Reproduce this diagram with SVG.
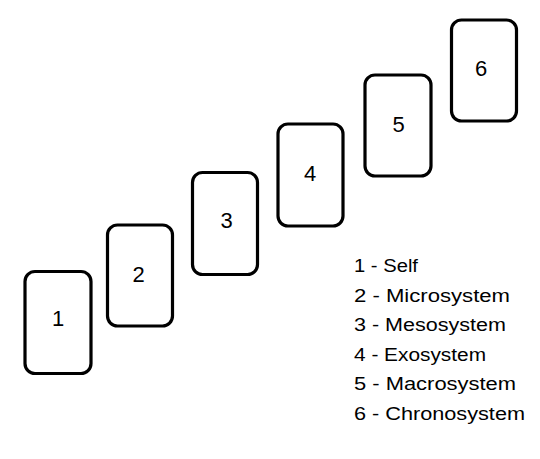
<svg xmlns="http://www.w3.org/2000/svg" width="540" height="459" viewBox="0 0 540 459">
<style>
.box{fill:#fff;stroke:#000;stroke-width:3.2}
.num{font-family:"Liberation Sans",Arial,sans-serif;font-size:22px;fill:#000;text-anchor:middle}
.leg{font-family:"Liberation Sans",Arial,sans-serif;font-size:17.5px;fill:#000}
</style>
<rect width="540" height="459" fill="#fff"/>
<g id="connectors"></g>
<g id="node1"><rect class="box" x="25" y="271.5" width="66" height="102" rx="10"/><text class="num" x="58" y="326">1</text></g>
<g id="node2"><rect class="box" x="107.5" y="225" width="65" height="101" rx="10"/><text class="num" x="138.5" y="282">2</text></g>
<g id="node3"><rect class="box" x="192.5" y="172.5" width="65" height="102" rx="10"/><text class="num" x="226.5" y="227.5">3</text></g>
<g id="node4"><rect class="box" x="278" y="124" width="65" height="102" rx="10"/><text class="num" x="310" y="181">4</text></g>
<g id="node5"><rect class="box" x="365" y="75" width="66" height="101" rx="10"/><text class="num" x="398.5" y="132">5</text></g>
<g id="node6"><rect class="box" x="451.5" y="20" width="65" height="101" rx="10"/><text class="num" x="481" y="76">6</text></g>
<g id="legend">
<text class="leg" x="354" y="272" textLength="64" lengthAdjust="spacingAndGlyphs">1 - Self</text>
<text class="leg" x="354" y="301.5" textLength="156" lengthAdjust="spacingAndGlyphs">2 - Microsystem</text>
<text class="leg" x="354" y="331" textLength="152" lengthAdjust="spacingAndGlyphs">3 - Mesosystem</text>
<text class="leg" x="354" y="360.5" textLength="132" lengthAdjust="spacingAndGlyphs">4 - Exosystem</text>
<text class="leg" x="354" y="390" textLength="162" lengthAdjust="spacingAndGlyphs">5 - Macrosystem</text>
<text class="leg" x="354" y="420" textLength="171" lengthAdjust="spacingAndGlyphs">6 - Chronosystem</text>
</g>
</svg>
